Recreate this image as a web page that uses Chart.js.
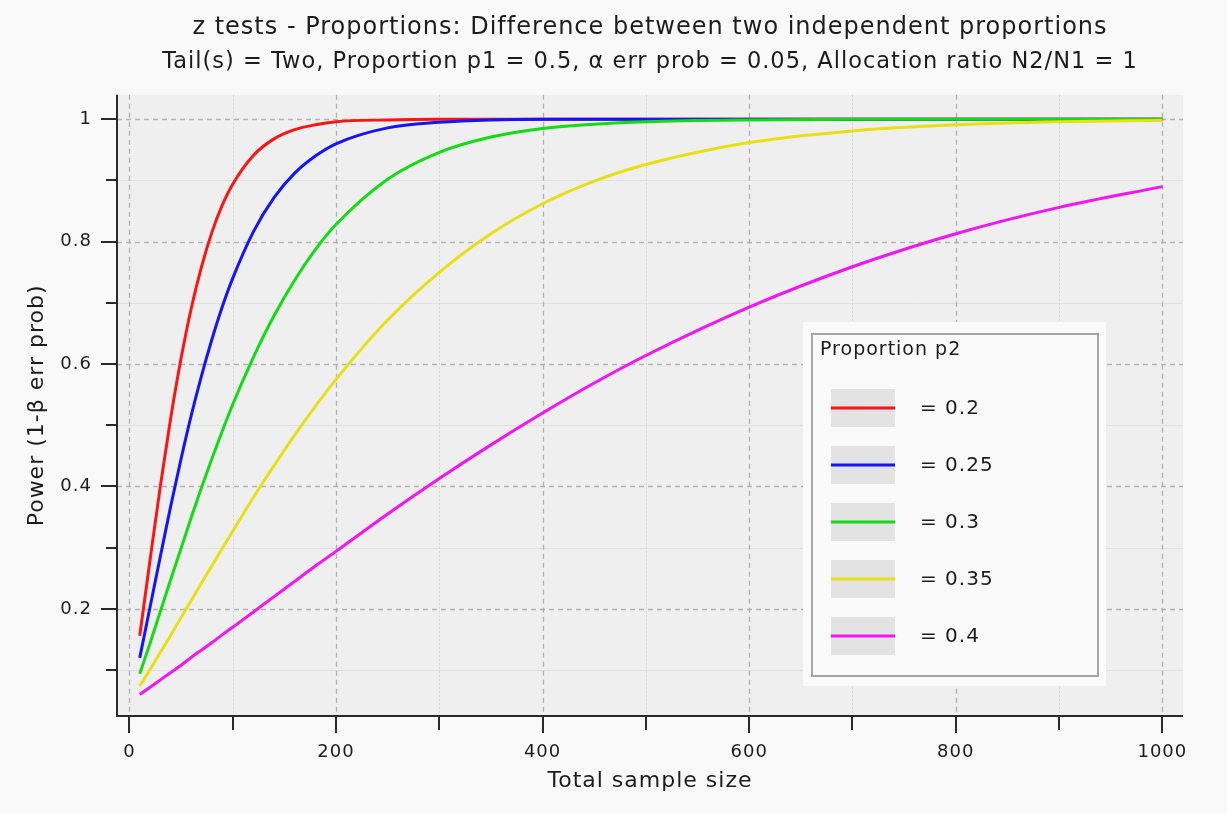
<!DOCTYPE html>
<html>
<head>
<meta charset="utf-8">
<script src="https://cdn.jsdelivr.net/npm/chart.js@4.4.0/dist/chart.umd.min.js"></script>
<style>
  html, body { margin: 0; padding: 0; background: #f9f9f9; }
  #wrap { width: 1227px; height: 814px; position: relative; }
</style>
</head>
<body>
<div id="wrap"><canvas id="power-chart" width="1227" height="814"></canvas></div>
<script>
const sampleSizes = [10, 20, 30, 40, 50, 60, 70, 80, 90, 100, 120, 140, 160, 180, 200,
                     250, 300, 350, 400, 450, 500, 600, 700, 800, 900, 1000];

const proportionP2 = ['0.2', '0.25', '0.3', '0.35', '0.4'];

const powerP2_020 = [0.156, 0.280, 0.401, 0.512, 0.609, 0.692, 0.760, 0.816, 0.860, 0.894, 0.941, 0.968, 0.983, 0.991, 0.996,
                     0.999, 1.000, 1.000, 1.000, 1.000, 1.000, 1.000, 1.000, 1.000, 1.000, 1.000];
const powerP2_025 = [0.120, 0.203, 0.286, 0.368, 0.445, 0.517, 0.582, 0.641, 0.694, 0.740, 0.816, 0.872, 0.912, 0.940, 0.960,
                     0.986, 0.995, 0.999, 1.000, 1.000, 1.000, 1.000, 1.000, 1.000, 1.000, 1.000];
const powerP2_030 = [0.094, 0.144, 0.196, 0.248, 0.299, 0.350, 0.399, 0.446, 0.491, 0.534, 0.611, 0.679, 0.737, 0.787, 0.828,
                     0.902, 0.946, 0.971, 0.985, 0.992, 0.996, 0.999, 1.000, 1.000, 1.000, 1.000];
const powerP2_035 = [0.074, 0.101, 0.129, 0.157, 0.186, 0.214, 0.243, 0.271, 0.299, 0.327, 0.382, 0.434, 0.484, 0.531, 0.575,
                     0.672, 0.750, 0.813, 0.862, 0.899, 0.926, 0.962, 0.981, 0.991, 0.996, 0.998];
const powerP2_040 = [0.060, 0.072, 0.084, 0.096, 0.108, 0.121, 0.133, 0.145, 0.158, 0.170, 0.195, 0.220, 0.245, 0.270, 0.294,
                     0.355, 0.413, 0.468, 0.520, 0.569, 0.614, 0.693, 0.759, 0.813, 0.856, 0.890];

const seriesColors = ['#ff1414', '#1414ff', '#14dc14', '#e6e014', '#f514f5'];

const xMajorTicks = [0, 200, 400, 600, 800, 1000];
const xMinorTicks = [100, 300, 500, 700, 900];
const xTickLabels = ['0', '200', '400', '600', '800', '1000'];
const yMajorTicks = [0.2, 0.4, 0.6, 0.8, 1];
const yMinorTicks = [0.1, 0.3, 0.5, 0.7, 0.9];
const yTickLabels = ['0.2', '0.4', '0.6', '0.8', '1'];

const titleText = 'z tests - Proportions: Difference between two independent proportions';
const subtitleText = 'Tail(s) = Two, Proportion p1 = 0.5, α err prob = 0.05, Allocation ratio N2/N1 = 1';
const legendTitle = 'Proportion p2';

const FONT = 'DejaVu Sans';
const TEXT = '#1c1c1c';

const allSeries = [powerP2_020, powerP2_025, powerP2_030, powerP2_035, powerP2_040];

// Plot background, grid lines (dashed majors, light minors)
const gridPlugin = {
    id: 'gridBackground',
    beforeDraw(chart) {
        const { ctx, chartArea: a, scales } = chart;
        ctx.letterSpacing = '1px';
        ctx.save();
        ctx.fillStyle = '#f9f9f9';
        ctx.fillRect(0, 0, chart.width, chart.height);
        ctx.fillStyle = '#efefef';
        ctx.fillRect(a.left, a.top, a.right - a.left, a.bottom - a.top);

        const hline = (v, color, dash, w) => {
            const y = Math.round(scales.y.getPixelForValue(v)) + 0.5;
            ctx.strokeStyle = color; ctx.setLineDash(dash); ctx.lineWidth = w;
            ctx.beginPath(); ctx.moveTo(a.left, y); ctx.lineTo(a.right, y); ctx.stroke();
        };
        const vline = (v, color, dash, w) => {
            const x = Math.round(scales.x.getPixelForValue(v)) + 0.5;
            ctx.strokeStyle = color; ctx.setLineDash(dash); ctx.lineWidth = w;
            ctx.beginPath(); ctx.moveTo(x, a.top); ctx.lineTo(x, a.bottom); ctx.stroke();
        };
        yMinorTicks.forEach(v => hline(v, '#e0e0e0', [], 1));
        xMinorTicks.forEach(v => vline(v, '#d4d4d4', [2, 2], 1));
        yMajorTicks.forEach(v => hline(v, '#b4b4b4', [5, 4], 1.3));
        xMajorTicks.forEach(v => vline(v, '#b0b0b0', [5, 4], 1.3));
        ctx.restore();
    },
    afterDatasetsDraw(chart) {
        const { ctx, chartArea: a, scales } = chart;
        ctx.save();
        ctx.strokeStyle = '#2a2a2a';
        ctx.lineWidth = 2;
        ctx.setLineDash([]);
        ctx.beginPath();
        ctx.moveTo(a.left, a.top); ctx.lineTo(a.left, a.bottom + 1);
        ctx.moveTo(a.left - 1, a.bottom); ctx.lineTo(a.right, a.bottom);
        ctx.stroke();

        ctx.beginPath();
        yMajorTicks.forEach(v => { const y = Math.round(scales.y.getPixelForValue(v)); ctx.moveTo(a.left - 16, y); ctx.lineTo(a.left, y); });
        yMinorTicks.forEach(v => { const y = Math.round(scales.y.getPixelForValue(v)); ctx.moveTo(a.left - 11, y); ctx.lineTo(a.left, y); });
        xMajorTicks.forEach(v => { const x = Math.round(scales.x.getPixelForValue(v)); ctx.moveTo(x, a.bottom); ctx.lineTo(x, a.bottom + 17); });
        xMinorTicks.forEach(v => { const x = Math.round(scales.x.getPixelForValue(v)); ctx.moveTo(x, a.bottom); ctx.lineTo(x, a.bottom + 14); });
        ctx.stroke();
        ctx.restore();
    }
};

// Boxed legend inside the plot, like the original
const legendPlugin = {
    id: 'boxLegend',
    afterDraw(chart) {
        const { ctx } = chart;
        ctx.save();
        ctx.fillStyle = '#fafafa';
        ctx.fillRect(803, 322, 303, 364);
        ctx.strokeStyle = '#a6a6a6';
        ctx.lineWidth = 2;
        ctx.strokeRect(812, 334, 286, 342);

        ctx.fillStyle = TEXT;
        ctx.font = '19px "' + FONT + '"';
        ctx.textBaseline = 'middle';
        ctx.textAlign = 'left';
        ctx.fillText(legendTitle, 820, 350);

        ctx.font = '20px "' + FONT + '"';
        proportionP2.forEach((p, i) => {
            const cy = 408 + i * 57;
            ctx.fillStyle = '#e3e3e3';
            ctx.fillRect(831, cy - 19, 64, 38);
            ctx.strokeStyle = seriesColors[i];
            ctx.lineWidth = 2.8;
            ctx.beginPath(); ctx.moveTo(831, cy); ctx.lineTo(895, cy); ctx.stroke();
            ctx.fillStyle = TEXT;
            ctx.fillText('= ' + p, 920, cy + 1);
        });
        ctx.restore();
    }
};

const datasets = allSeries.map((vals, i) => ({
    label: '= ' + proportionP2[i],
    data: sampleSizes.map((n, j) => ({ x: n, y: vals[j] })),
    borderColor: seriesColors[i],
    borderWidth: 3,
    pointRadius: 0,
    cubicInterpolationMode: 'monotone',
    order: allSeries.length - 1 - i,
    fill: false
}));

new Chart(document.getElementById('power-chart'), {
    type: 'line',
    data: { datasets },
    options: {
        responsive: false,
        animation: false,
        layout: { padding: { left: 0, right: 44, top: 0, bottom: 0 } },
        plugins: {
            legend: { display: false },
            tooltip: { enabled: false },
            title: {
                display: true,
                fullSize: false,
                text: titleText,
                color: TEXT,
                font: { family: FONT, size: 24, weight: 'normal' },
                padding: { top: 13, bottom: 7 }
            },
            subtitle: {
                display: true,
                fullSize: false,
                text: subtitleText,
                color: TEXT,
                font: { family: FONT, size: 22.5, weight: 'normal' },
                padding: { top: 0, bottom: 19 }
            }
        },
        scales: {
            x: {
                type: 'linear',
                min: -12,
                max: 1020,
                grid: { display: false, drawTicks: false },
                border: { display: false },
                afterBuildTicks: s => { s.ticks = xMajorTicks.map(v => ({ value: v })); },
                afterFit: s => { s.height = 98; },
                ticks: {
                    padding: 26,
                    color: TEXT,
                    maxRotation: 0,
                    font: { family: FONT, size: 18 },
                    callback: (v, i) => xTickLabels[i]
                },
                title: {
                    display: true,
                    text: 'Total sample size',
                    color: TEXT,
                    font: { family: FONT, size: 22 },
                    padding: { top: 0, bottom: 20 }
                }
            },
            y: {
                type: 'linear',
                min: 0.025,
                max: 1.04,
                grid: { display: false, drawTicks: false },
                border: { display: false },
                afterBuildTicks: s => { s.ticks = yMajorTicks.map(v => ({ value: v })); },
                afterFit: s => { s.width = 117; },
                ticks: {
                    padding: 25,
                    color: TEXT,
                    font: { family: FONT, size: 18 },
                    callback: (v, i) => yTickLabels[i]
                },
                title: {
                    display: true,
                    text: 'Power (1-β err prob)',
                    color: TEXT,
                    font: { family: FONT, size: 22 },
                    padding: { top: 24, bottom: 0 }
                }
            }
        }
    },
    plugins: [gridPlugin, legendPlugin]
});
</script>
</body>
</html>
